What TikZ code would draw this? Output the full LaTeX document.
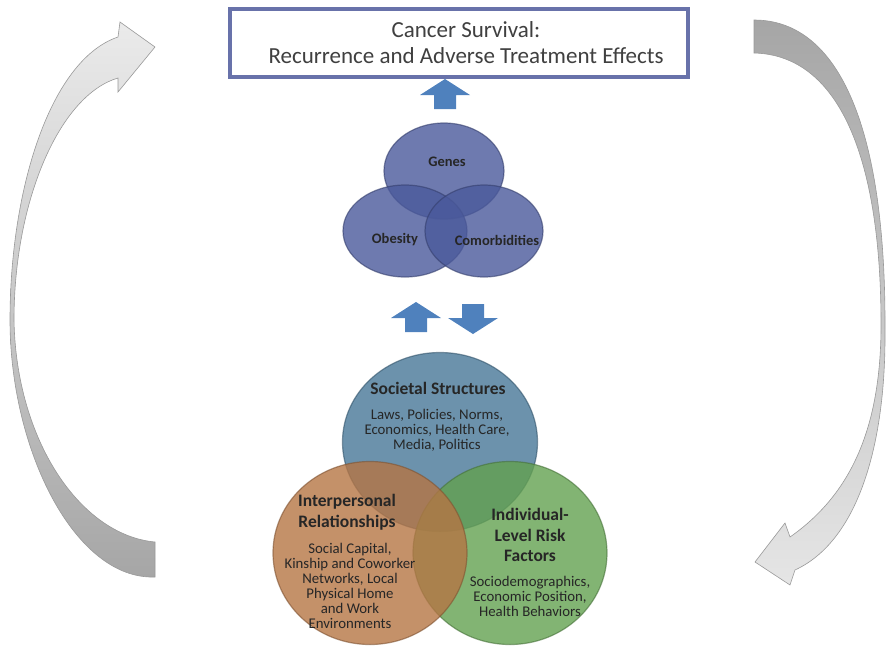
\documentclass[tikz,border=0pt]{standalone}
\usepackage{fontspec}
\setmainfont{Carlito}
\usetikzlibrary{shapes.geometric,shadows}

\definecolor{boxblue}{RGB}{104,114,170}
\definecolor{arrblue}{RGB}{79,129,189}
\definecolor{vennblue}{RGB}{74,89,155}
\definecolor{socblue}{RGB}{71,119,151}
\definecolor{relorange}{RGB}{181,117,68}
\definecolor{riskgreen}{RGB}{99,161,80}
\definecolor{txtdark}{RGB}{38,38,38}

\begin{document}
\begin{tikzpicture}[x=1pt,y=-1pt,
  venn/.style={ellipse,fill=#1,fill opacity=0.8,draw=#1!70!black,draw opacity=0.6,line width=1.2pt},
  small/.style={font=\bfseries\fontsize{14.5}{17}\selectfont,text=txtdark},
  big/.style={font=\bfseries\fontsize{17.5}{20.5}\selectfont,text=txtdark,align=center},
  sub/.style={font=\fontsize{14.8}{15}\selectfont,text=txtdark,align=center},
  grayarrow/.style={draw=black!40,line width=0.6pt},
  blockarrow/.pic={\fill[arrblue] (-11,0) -- (-11,-14) -- (-25,-14) -- (0,-30) -- (25,-14) -- (11,-14) -- (11,0) -- cycle;}]
			\useasboundingbox (0,0) rectangle (887,654);
			% feedback arrows
			\draw[grayarrow,top color=black!8,bottom color=black!35] (118,37) .. controls (50,60) and (10,190) .. (10,320) .. controls (10,450) and (75,580) .. (155,577) -- (155,542) .. controls (80,535) and (16,440) .. (14,320) .. controls (14,200) and (60,95) .. (118,78) -- (118,92) -- (155,47) -- (120,22) -- cycle;
			\draw[grayarrow,top color=black!35,bottom color=black!10] (754,20) .. controls (840,20) and (886,130) .. (885,330) .. controls (886,440) and (860,540) .. (795,570) -- (790,585) -- (755,562) -- (785,523) -- (790,537) .. controls (850,495) and (880,430) .. (881,330) .. controls (882,160) and (840,55) .. (754,53) -- cycle;
			\node[draw=boxblue,line width=4.5pt,fill=white,minimum width=458pt,minimum height=68pt,drop shadow={opacity=0.25,shadow xshift=2pt,shadow yshift=-2pt}] (outcome) at (459,43) {};
			\node[align=center,font=\fontsize{23}{26}\selectfont,text=black!75] (outcometxt) at (466,43) {Cancer Survival:\\Recurrence and Adverse Treatment Effects};
			\pic (uptop) at (445,109) {blockarrow};
			% biology
			\node[venn=vennblue,minimum width=120pt,minimum height=96pt] (genes) at (444,171) {};
			\node[venn=vennblue,minimum width=124pt,minimum height=92pt] (obesity) at (405,231) {};
			\node[venn=vennblue,minimum width=118pt,minimum height=92pt] (comorb) at (484,231) {};
			\node[small] (genestxt) at (447,162) {Genes};
			\node[small] (obesitytxt) at (395,240) {Obesity};
			\node[small] (comorbtxt) at (497,240) {Comorbidities};
			\pic (upmid) at (416,332) {blockarrow};
			\pic[rotate=180] (downmid) at (473,304) {blockarrow};
			% social levels
			\node[venn=socblue,minimum width=195pt,minimum height=179pt] (societal) at (440,442) {};
			\node[venn=riskgreen,minimum width=194pt,minimum height=183pt] (risk) at (510,553) {};
			\node[venn=relorange,minimum width=194pt,minimum height=183pt] (relations) at (370,553) {};
			\node[big] (soctitle) at (438,388) {Societal Structures};
			\node[sub] (soctxt) at (437,430) {Laws, Policies, Norms,\\Economics, Health Care,\\Media, Politics};
			\node[big] (reltitle) at (347,512) {Interpersonal\\Relationships};
			\node[sub] (reltxt) at (350,586) {Social Capital,\\Kinship and Coworker\\Networks, Local\\Physical Home\\and Work\\Environments};
			\node[big] (risktitle) at (530,535) {Individual-\\Level Risk\\Factors};
			\node[sub] (risktxt) at (530,596) {Sociodemographics,\\Economic Position,\\Health Behaviors};
		\end{tikzpicture}
\end{document}
